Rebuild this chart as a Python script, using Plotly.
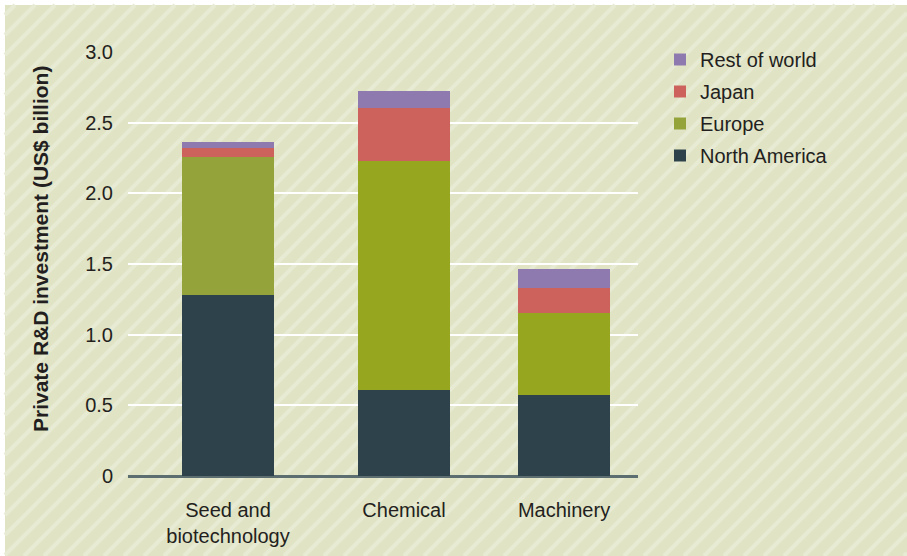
import plotly.graph_objects as go

# ---- data ----
categories = ["Seed and<br>biotechnology", "Chemical", "Machinery"]
north_america = [1.28, 0.61, 0.57]
europe = [0.98, 1.62, 0.58]
japan = [0.06, 0.375, 0.18]
rest_of_world = [0.045, 0.12, 0.135]
y_tick_vals = [0, 0.5, 1.0, 1.5, 2.0, 2.5, 3.0]
y_tick_text = ["0", "0.5", "1.0", "1.5", "2.0", "2.5", "3.0"]

# ---- layout / style ----
W, H = 907, 556
PL, PR, PT, PB = 128, 638, 52, 476   # plot area in pixels
x_positions = [0, 176, 336]          # category centres (axis units)
bar_width = 92
FONT = "Liberation Sans, Arial, sans-serif"
TXT = "#231f20"

c_na = "#2e424b"
c_eu = ["#95a33b", "#96a61f", "#96a61f"]
c_jp = "#cd625c"
c_row = "#8f7ab0"


def px_x(px):
    return (px - PL) / (PR - PL)


def px_y(py):
    return (PB - py) / (PB - PT)


fig = go.Figure()
series = [
    ("North America", north_america, c_na, 4),
    ("Europe", europe, c_eu, 3),
    ("Japan", japan, c_jp, 2),
    ("Rest of world", rest_of_world, c_row, 1),
]
for name, vals, col, rank in series:
    fig.add_trace(go.Bar(
        name=name, x=x_positions, y=vals, width=bar_width,
        marker=dict(color=col, line=dict(width=0)),
        legendgroup=name, legendrank=rank,
    ))

# background: beige panel with diagonal light stripes
shapes = [dict(type="rect", xref="paper", yref="paper", layer="below",
               x0=px_x(5), x1=px_x(W + 5), y0=px_y(H + 5), y1=px_y(5),
               fillcolor="#e0e3c4", line=dict(width=0))]
path = []
c = 0
while c < W + H + 20:
    xa = max(5, c - H)
    xb = min(W, c - 5)
    if xb > xa:
        path.append(f"M{px_x(xa):.5f},{px_y(c - xa):.5f}L{px_x(xb):.5f},{px_y(c - xb):.5f}")
    c += 20
shapes.append(dict(type="path", xref="paper", yref="paper", layer="below",
                   path="".join(path), line=dict(color="#e8ebd4", width=4)))

fig.update_layout(
    width=W, height=H, autosize=False,
    margin=dict(l=PL, r=W - PR, t=PT, b=H - PB, pad=0, autoexpand=False),
    paper_bgcolor="white", plot_bgcolor="rgba(0,0,0,0)",
    barmode="stack", bargap=0,
    font=dict(family=FONT, size=20, color=TXT),
    shapes=shapes,
    showlegend=True,
    legend=dict(
        traceorder="grouped", tracegroupgap=3,
        x=px_x(660), xanchor="left", y=px_y(40), yanchor="top",
        bgcolor="rgba(0,0,0,0)", font=dict(size=20, color=TXT, family=FONT),
        itemclick=False,
    ),
    xaxis=dict(
        range=[-100, 410], tickvals=x_positions, ticktext=categories,
        showgrid=False, zeroline=False, showline=False, ticks="",
        tickfont=dict(size=20, color=TXT, family=FONT),
        ticklabelstandoff=20, fixedrange=True, automargin=False,
    ),
    yaxis=dict(
        range=[0, 3], tickvals=y_tick_vals, ticktext=y_tick_text,
        showgrid=True, gridcolor="white", gridwidth=2,
        zeroline=True, zerolinecolor="#5d6e70", zerolinewidth=2.5,
        showline=False, ticks="",
        tickfont=dict(size=20, color=TXT, family=FONT),
        ticklabelstandoff=14, fixedrange=True, automargin=False,
    ),
    annotations=[dict(
        text="<b>Private R&D investment (US$ billion)</b>",
        xref="paper", yref="paper", x=px_x(40), y=px_y(249),
        xanchor="center", yanchor="middle", textangle=-90, showarrow=False,
        font=dict(size=21, color=TXT, family=FONT),
    )],
)

fig.write_html("out.html",
               config={"displayModeBar": False},
               post_script="document.body.style.margin='0px';document.body.style.overflow='hidden';")
